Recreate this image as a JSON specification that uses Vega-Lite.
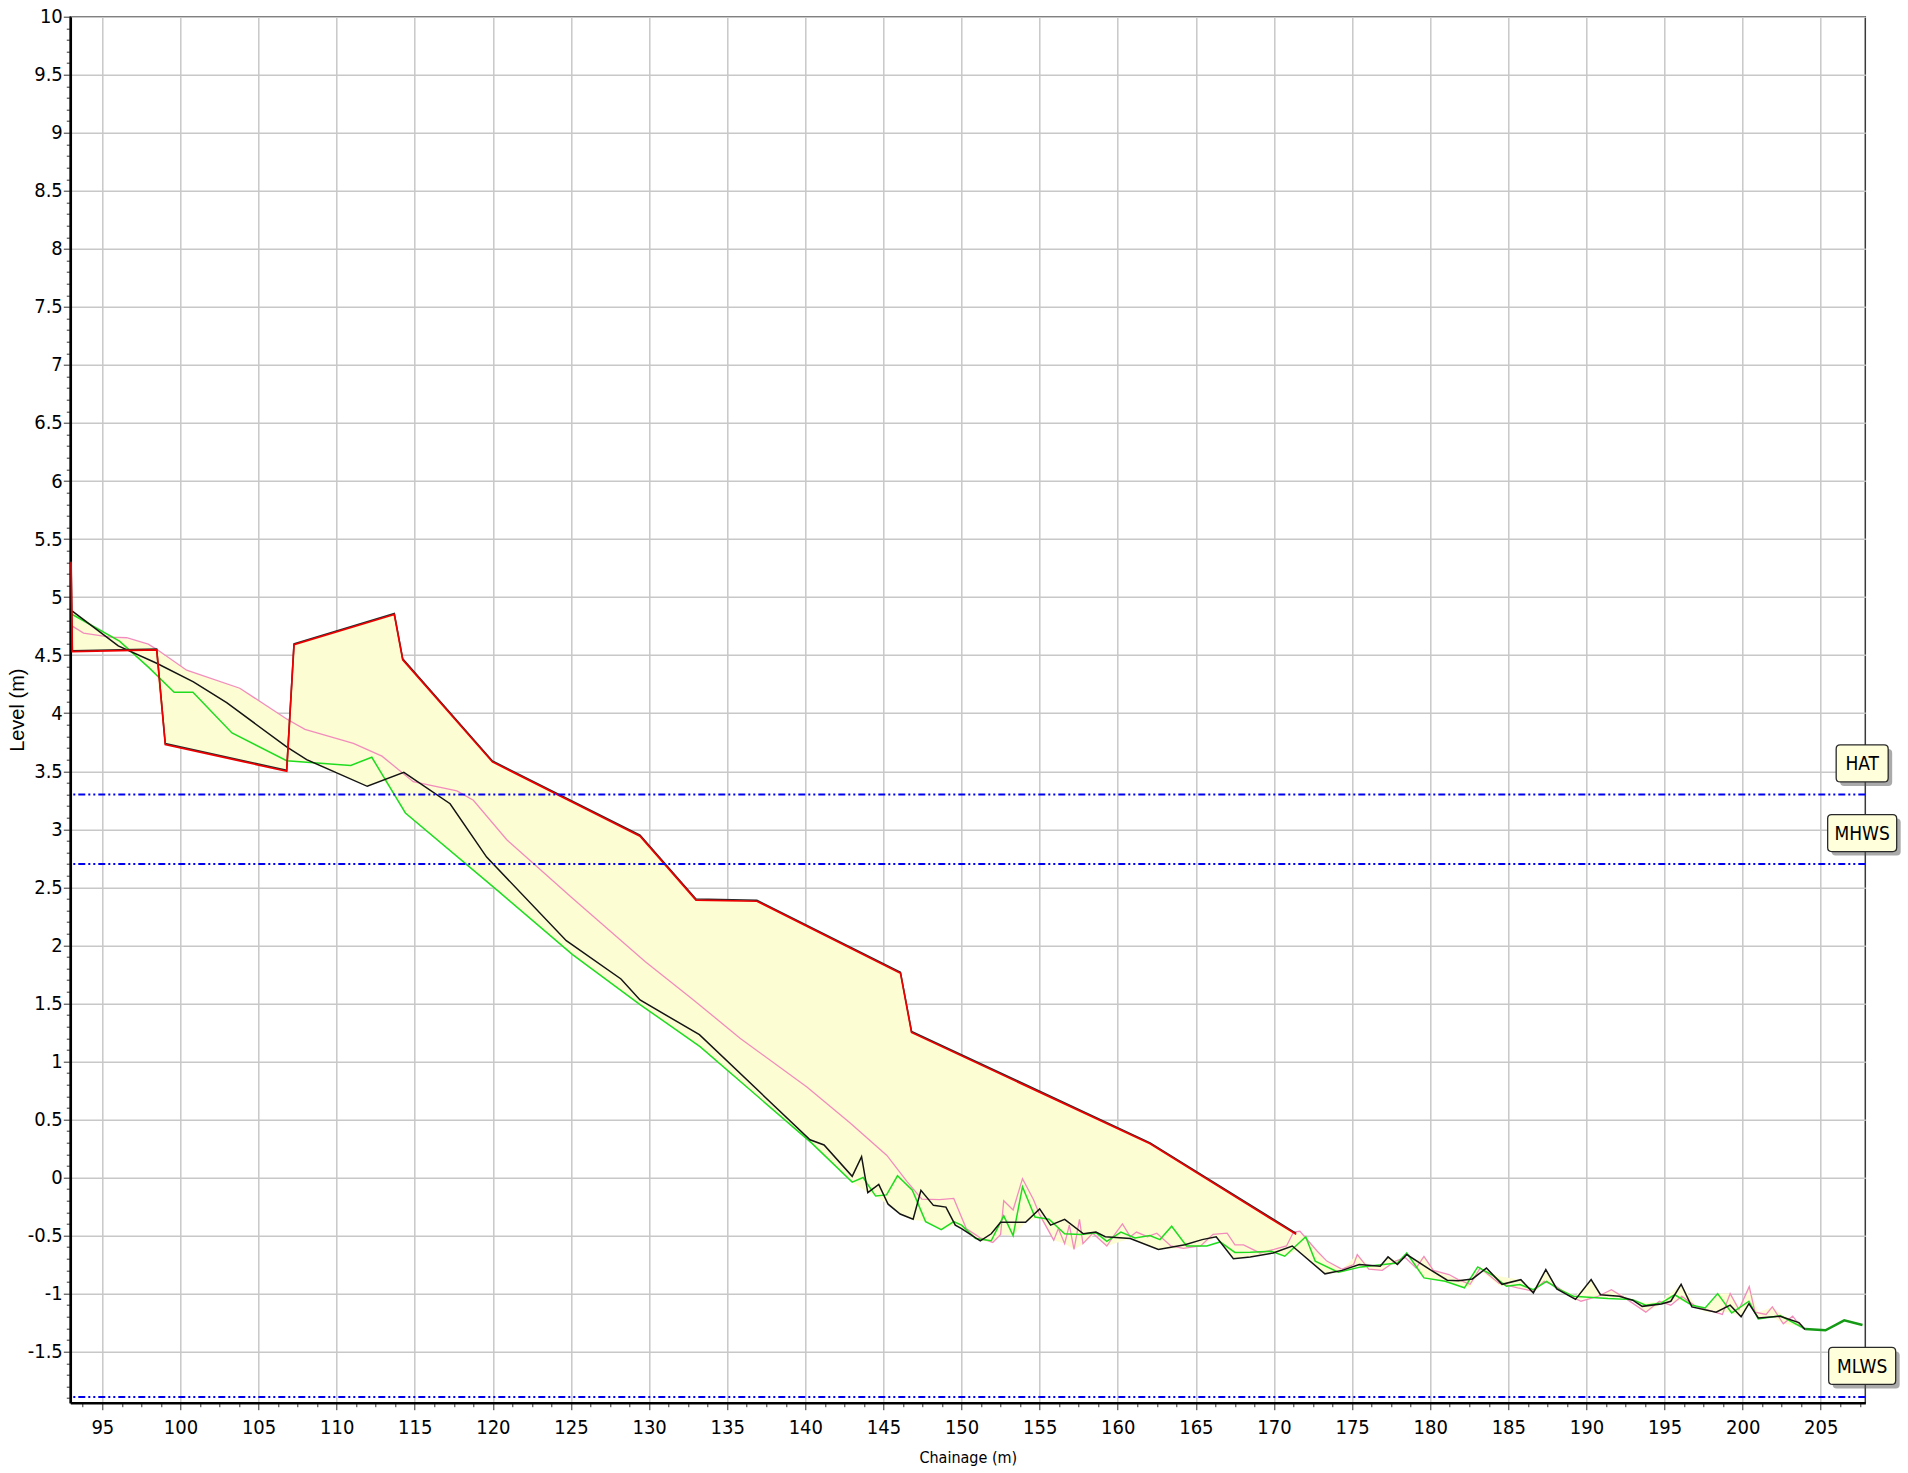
{
  "$schema": "https://vega.github.io/schema/vega-lite/v6.json",
  "width": 1795,
  "height": 1386,
  "autosize": {"type": "none"},
  "padding": {"left": 70.3, "top": 16.7, "right": 42.7, "bottom": 70.3},
  "background": "white",
  "config": {
    "view": {"stroke": "#3a3a3a", "strokeWidth": 1.5},
    "axis": {
      "labelFont": "Liberation Sans Narrow, DejaVu Sans Condensed, sans-serif",
      "labelFontSize": 20,
      "labelColor": "black",
      "labelOverlap": false,
      "labelFlush": false,
      "domainColor": "black",
      "domainWidth": 2.5,
      "tickColor": "#333",
      "tickWidth": 1,
      "tickSize": 7,
      "gridColor": "#c8c8c8",
      "gridWidth": 1.5,
      "titleColor": "black",
      "titleFontWeight": "normal"
    }
  },
  "datasets": {
    "profiles": [
      {"series": "red", "chainage": 93.0, "level": 5.3},
      {"series": "red", "chainage": 93.08, "level": 4.53},
      {"series": "red", "chainage": 98.48, "level": 4.545},
      {"series": "red", "chainage": 99.03, "level": 3.73},
      {"series": "red", "chainage": 106.8, "level": 3.5},
      {"series": "red", "chainage": 107.27, "level": 4.59},
      {"series": "red", "chainage": 113.69, "level": 4.85},
      {"series": "red", "chainage": 114.23, "level": 4.46},
      {"series": "red", "chainage": 119.97, "level": 3.58},
      {"series": "red", "chainage": 129.42, "level": 2.94},
      {"series": "red", "chainage": 133.0, "level": 2.39},
      {"series": "red", "chainage": 136.9, "level": 2.38},
      {"series": "red", "chainage": 146.09, "level": 1.76},
      {"series": "red", "chainage": 146.8, "level": 1.25},
      {"series": "red", "chainage": 162.07, "level": 0.29},
      {"series": "red", "chainage": 171.42, "level": -0.49},

      {"series": "black", "chainage": 93.08, "level": 4.88},
      {"series": "black", "chainage": 96.02, "level": 4.58},
      {"series": "black", "chainage": 98.48, "level": 4.43},
      {"series": "black", "chainage": 100.83, "level": 4.27},
      {"series": "black", "chainage": 102.96, "level": 4.09},
      {"series": "black", "chainage": 106.8, "level": 3.71},
      {"series": "black", "chainage": 108.08, "level": 3.6},
      {"series": "black", "chainage": 111.96, "level": 3.37},
      {"series": "black", "chainage": 114.3, "level": 3.49},
      {"series": "black", "chainage": 117.26, "level": 3.22},
      {"series": "black", "chainage": 119.6, "level": 2.76},
      {"series": "black", "chainage": 124.7, "level": 2.04},
      {"series": "black", "chainage": 128.2, "level": 1.71},
      {"series": "black", "chainage": 129.42, "level": 1.53},
      {"series": "black", "chainage": 133.22, "level": 1.23},
      {"series": "black", "chainage": 140.3, "level": 0.325},
      {"series": "black", "chainage": 141.2, "level": 0.28},
      {"series": "black", "chainage": 143.0, "level": 0.01},
      {"series": "black", "chainage": 143.6, "level": 0.18},
      {"series": "black", "chainage": 144.0, "level": -0.13},
      {"series": "black", "chainage": 144.7, "level": -0.06},
      {"series": "black", "chainage": 145.3, "level": -0.23},
      {"series": "black", "chainage": 146.07, "level": -0.315},
      {"series": "black", "chainage": 146.9, "level": -0.36},
      {"series": "black", "chainage": 147.4, "level": -0.11},
      {"series": "black", "chainage": 148.2, "level": -0.24},
      {"series": "black", "chainage": 149.0, "level": -0.255},
      {"series": "black", "chainage": 149.6, "level": -0.41},
      {"series": "black", "chainage": 150.0, "level": -0.44},
      {"series": "black", "chainage": 151.2, "level": -0.545},
      {"series": "black", "chainage": 151.9, "level": -0.485},
      {"series": "black", "chainage": 152.5, "level": -0.385},
      {"series": "black", "chainage": 154.1, "level": -0.385},
      {"series": "black", "chainage": 155.0, "level": -0.27},
      {"series": "black", "chainage": 155.7, "level": -0.41},
      {"series": "black", "chainage": 156.6, "level": -0.36},
      {"series": "black", "chainage": 157.8, "level": -0.485},
      {"series": "black", "chainage": 158.6, "level": -0.47},
      {"series": "black", "chainage": 159.2, "level": -0.51},
      {"series": "black", "chainage": 160.8, "level": -0.525},
      {"series": "black", "chainage": 162.6, "level": -0.62},
      {"series": "black", "chainage": 164.3, "level": -0.58},
      {"series": "black", "chainage": 165.4, "level": -0.535},
      {"series": "black", "chainage": 166.3, "level": -0.51},
      {"series": "black", "chainage": 167.4, "level": -0.7},
      {"series": "black", "chainage": 168.48, "level": -0.684},
      {"series": "black", "chainage": 169.95, "level": -0.65},
      {"series": "black", "chainage": 171.17, "level": -0.59},
      {"series": "black", "chainage": 173.26, "level": -0.83},
      {"series": "black", "chainage": 174.36, "level": -0.8},
      {"series": "black", "chainage": 175.46, "level": -0.75},
      {"series": "black", "chainage": 176.8, "level": -0.764},
      {"series": "black", "chainage": 177.3, "level": -0.684},
      {"series": "black", "chainage": 177.9, "level": -0.75},
      {"series": "black", "chainage": 178.5, "level": -0.664},
      {"series": "black", "chainage": 179.99, "level": -0.793},
      {"series": "black", "chainage": 181.09, "level": -0.885},
      {"series": "black", "chainage": 181.8, "level": -0.89},
      {"series": "black", "chainage": 182.7, "level": -0.874},
      {"series": "black", "chainage": 183.6, "level": -0.78},
      {"series": "black", "chainage": 184.6, "level": -0.92},
      {"series": "black", "chainage": 185.8, "level": -0.88},
      {"series": "black", "chainage": 186.6, "level": -0.994},
      {"series": "black", "chainage": 187.4, "level": -0.793},
      {"series": "black", "chainage": 188.1, "level": -0.96},
      {"series": "black", "chainage": 189.3, "level": -1.05},
      {"series": "black", "chainage": 190.3, "level": -0.88},
      {"series": "black", "chainage": 190.9, "level": -1.01},
      {"series": "black", "chainage": 192.1, "level": -1.023},
      {"series": "black", "chainage": 192.96, "level": -1.057},
      {"series": "black", "chainage": 193.57, "level": -1.11},
      {"series": "black", "chainage": 194.8, "level": -1.09},
      {"series": "black", "chainage": 195.4, "level": -1.066},
      {"series": "black", "chainage": 196.06, "level": -0.92},
      {"series": "black", "chainage": 196.75, "level": -1.115},
      {"series": "black", "chainage": 198.3, "level": -1.16},
      {"series": "black", "chainage": 199.2, "level": -1.1},
      {"series": "black", "chainage": 199.9, "level": -1.2},
      {"series": "black", "chainage": 200.4, "level": -1.086},
      {"series": "black", "chainage": 201.0, "level": -1.21},
      {"series": "black", "chainage": 202.4, "level": -1.195},
      {"series": "black", "chainage": 203.6, "level": -1.25},
      {"series": "black", "chainage": 204.0, "level": -1.31},

      {"series": "green", "chainage": 93.08, "level": 4.85},
      {"series": "green", "chainage": 96.1, "level": 4.62},
      {"series": "green", "chainage": 98.0, "level": 4.39},
      {"series": "green", "chainage": 99.6, "level": 4.18},
      {"series": "green", "chainage": 100.8, "level": 4.18},
      {"series": "green", "chainage": 103.3, "level": 3.83},
      {"series": "green", "chainage": 106.8, "level": 3.59},
      {"series": "green", "chainage": 108.3, "level": 3.575},
      {"series": "green", "chainage": 110.9, "level": 3.55},
      {"series": "green", "chainage": 112.25, "level": 3.62},
      {"series": "green", "chainage": 114.4, "level": 3.14},
      {"series": "green", "chainage": 120.4, "level": 2.46},
      {"series": "green", "chainage": 125.1, "level": 1.92},
      {"series": "green", "chainage": 129.42, "level": 1.49},
      {"series": "green", "chainage": 133.26, "level": 1.128},
      {"series": "green", "chainage": 140.41, "level": 0.296},
      {"series": "green", "chainage": 143.0, "level": -0.04},
      {"series": "green", "chainage": 143.7, "level": 0.0},
      {"series": "green", "chainage": 144.5, "level": -0.16},
      {"series": "green", "chainage": 145.2, "level": -0.15},
      {"series": "green", "chainage": 145.9, "level": 0.015},
      {"series": "green", "chainage": 146.85, "level": -0.11},
      {"series": "green", "chainage": 147.7, "level": -0.38},
      {"series": "green", "chainage": 148.7, "level": -0.45},
      {"series": "green", "chainage": 149.5, "level": -0.38},
      {"series": "green", "chainage": 150.0, "level": -0.41},
      {"series": "green", "chainage": 150.9, "level": -0.525},
      {"series": "green", "chainage": 151.9, "level": -0.545},
      {"series": "green", "chainage": 152.7, "level": -0.33},
      {"series": "green", "chainage": 153.3, "level": -0.5},
      {"series": "green", "chainage": 153.9, "level": -0.08},
      {"series": "green", "chainage": 154.7, "level": -0.34},
      {"series": "green", "chainage": 155.6, "level": -0.36},
      {"series": "green", "chainage": 156.6, "level": -0.485},
      {"series": "green", "chainage": 157.6, "level": -0.49},
      {"series": "green", "chainage": 158.6, "level": -0.475},
      {"series": "green", "chainage": 159.3, "level": -0.55},
      {"series": "green", "chainage": 160.2, "level": -0.47},
      {"series": "green", "chainage": 161.1, "level": -0.52},
      {"series": "green", "chainage": 162.05, "level": -0.5},
      {"series": "green", "chainage": 162.7, "level": -0.535},
      {"series": "green", "chainage": 163.45, "level": -0.42},
      {"series": "green", "chainage": 164.4, "level": -0.59},
      {"series": "green", "chainage": 165.7, "level": -0.59},
      {"series": "green", "chainage": 166.55, "level": -0.555},
      {"series": "green", "chainage": 167.5, "level": -0.645},
      {"series": "green", "chainage": 168.48, "level": -0.643},
      {"series": "green", "chainage": 169.83, "level": -0.635},
      {"series": "green", "chainage": 170.69, "level": -0.678},
      {"series": "green", "chainage": 172.03, "level": -0.511},
      {"series": "green", "chainage": 172.64, "level": -0.72},
      {"series": "green", "chainage": 174.11, "level": -0.816},
      {"series": "green", "chainage": 175.58, "level": -0.77},
      {"series": "green", "chainage": 176.56, "level": -0.756},
      {"series": "green", "chainage": 177.9, "level": -0.736},
      {"series": "green", "chainage": 178.5, "level": -0.65},
      {"series": "green", "chainage": 179.6, "level": -0.865},
      {"series": "green", "chainage": 180.96, "level": -0.894},
      {"series": "green", "chainage": 182.19, "level": -0.95},
      {"series": "green", "chainage": 183.04, "level": -0.77},
      {"series": "green", "chainage": 184.02, "level": -0.845},
      {"series": "green", "chainage": 184.88, "level": -0.937},
      {"series": "green", "chainage": 185.74, "level": -0.922},
      {"series": "green", "chainage": 186.6, "level": -0.966},
      {"series": "green", "chainage": 187.45, "level": -0.894},
      {"series": "green", "chainage": 188.18, "level": -0.96},
      {"series": "green", "chainage": 189.16, "level": -1.023},
      {"series": "green", "chainage": 189.9, "level": -1.029},
      {"series": "green", "chainage": 191.37, "level": -1.043},
      {"series": "green", "chainage": 192.96, "level": -1.052},
      {"series": "green", "chainage": 193.8, "level": -1.1},
      {"series": "green", "chainage": 194.8, "level": -1.08},
      {"series": "green", "chainage": 195.65, "level": -1.01},
      {"series": "green", "chainage": 196.75, "level": -1.1},
      {"series": "green", "chainage": 197.6, "level": -1.124},
      {"series": "green", "chainage": 198.4, "level": -1.0},
      {"series": "green", "chainage": 199.3, "level": -1.167},
      {"series": "green", "chainage": 200.4, "level": -1.066},
      {"series": "green", "chainage": 201.0, "level": -1.218},
      {"series": "green", "chainage": 202.4, "level": -1.19},
      {"series": "green", "chainage": 204.0, "level": -1.305},

      {"series": "darkgreen", "chainage": 204.0, "level": -1.305},
      {"series": "darkgreen", "chainage": 205.3, "level": -1.316},
      {"series": "darkgreen", "chainage": 206.5, "level": -1.23},
      {"series": "darkgreen", "chainage": 207.67, "level": -1.27},

      {"series": "pink", "chainage": 93.08, "level": 4.75},
      {"series": "pink", "chainage": 93.8, "level": 4.69},
      {"series": "pink", "chainage": 95.5, "level": 4.655},
      {"series": "pink", "chainage": 96.56, "level": 4.65},
      {"series": "pink", "chainage": 97.94, "level": 4.595},
      {"series": "pink", "chainage": 98.48, "level": 4.55},
      {"series": "pink", "chainage": 100.4, "level": 4.37},
      {"series": "pink", "chainage": 103.8, "level": 4.215},
      {"series": "pink", "chainage": 106.8, "level": 3.95},
      {"series": "pink", "chainage": 107.97, "level": 3.86},
      {"series": "pink", "chainage": 111.07, "level": 3.74},
      {"series": "pink", "chainage": 112.9, "level": 3.63},
      {"series": "pink", "chainage": 114.9, "level": 3.41},
      {"series": "pink", "chainage": 117.7, "level": 3.33},
      {"series": "pink", "chainage": 118.75, "level": 3.25},
      {"series": "pink", "chainage": 120.89, "level": 2.91},
      {"series": "pink", "chainage": 125.06, "level": 2.41},
      {"series": "pink", "chainage": 129.74, "level": 1.86},
      {"series": "pink", "chainage": 132.84, "level": 1.53},
      {"series": "pink", "chainage": 135.82, "level": 1.2},
      {"series": "pink", "chainage": 140.1, "level": 0.78},
      {"series": "pink", "chainage": 142.87, "level": 0.47},
      {"series": "pink", "chainage": 145.22, "level": 0.19},
      {"series": "pink", "chainage": 146.5, "level": -0.034},
      {"series": "pink", "chainage": 147.46, "level": -0.186},
      {"series": "pink", "chainage": 148.6, "level": -0.19},
      {"series": "pink", "chainage": 149.5, "level": -0.18},
      {"series": "pink", "chainage": 150.3, "level": -0.44},
      {"series": "pink", "chainage": 151.2, "level": -0.52},
      {"series": "pink", "chainage": 152.0, "level": -0.56},
      {"series": "pink", "chainage": 152.5, "level": -0.49},
      {"series": "pink", "chainage": 152.7, "level": -0.2},
      {"series": "pink", "chainage": 153.3, "level": -0.28},
      {"series": "pink", "chainage": 153.9, "level": -0.01},
      {"series": "pink", "chainage": 154.6, "level": -0.19},
      {"series": "pink", "chainage": 155.0, "level": -0.32},
      {"series": "pink", "chainage": 155.9, "level": -0.54},
      {"series": "pink", "chainage": 156.2, "level": -0.44},
      {"series": "pink", "chainage": 156.6, "level": -0.57},
      {"series": "pink", "chainage": 156.9, "level": -0.41},
      {"series": "pink", "chainage": 157.2, "level": -0.62},
      {"series": "pink", "chainage": 157.55, "level": -0.36},
      {"series": "pink", "chainage": 157.77, "level": -0.57},
      {"series": "pink", "chainage": 158.4, "level": -0.48},
      {"series": "pink", "chainage": 159.3, "level": -0.59},
      {"series": "pink", "chainage": 159.7, "level": -0.51},
      {"series": "pink", "chainage": 160.3, "level": -0.4},
      {"series": "pink", "chainage": 160.8, "level": -0.51},
      {"series": "pink", "chainage": 161.2, "level": -0.47},
      {"series": "pink", "chainage": 161.9, "level": -0.51},
      {"series": "pink", "chainage": 162.5, "level": -0.48},
      {"series": "pink", "chainage": 163.4, "level": -0.59},
      {"series": "pink", "chainage": 164.2, "level": -0.61},
      {"series": "pink", "chainage": 165.3, "level": -0.59},
      {"series": "pink", "chainage": 166.1, "level": -0.49},
      {"series": "pink", "chainage": 167.0, "level": -0.48},
      {"series": "pink", "chainage": 167.5, "level": -0.58},
      {"series": "pink", "chainage": 168.05, "level": -0.58},
      {"series": "pink", "chainage": 169.1, "level": -0.65},
      {"series": "pink", "chainage": 170.0, "level": -0.62},
      {"series": "pink", "chainage": 170.8, "level": -0.59},
      {"series": "pink", "chainage": 171.25, "level": -0.47},
      {"series": "pink", "chainage": 171.66, "level": -0.463},
      {"series": "pink", "chainage": 172.77, "level": -0.635},
      {"series": "pink", "chainage": 173.38, "level": -0.72},
      {"series": "pink", "chainage": 174.36, "level": -0.79},
      {"series": "pink", "chainage": 175.1, "level": -0.75},
      {"series": "pink", "chainage": 175.33, "level": -0.664},
      {"series": "pink", "chainage": 176.07, "level": -0.79},
      {"series": "pink", "chainage": 176.93, "level": -0.8},
      {"series": "pink", "chainage": 177.78, "level": -0.72},
      {"series": "pink", "chainage": 178.4, "level": -0.69},
      {"series": "pink", "chainage": 179.1, "level": -0.78},
      {"series": "pink", "chainage": 179.6, "level": -0.68},
      {"series": "pink", "chainage": 180.2, "level": -0.8},
      {"series": "pink", "chainage": 181.2, "level": -0.836},
      {"series": "pink", "chainage": 181.8, "level": -0.88},
      {"series": "pink", "chainage": 182.55, "level": -0.92},
      {"series": "pink", "chainage": 183.2, "level": -0.78},
      {"series": "pink", "chainage": 184.4, "level": -0.91},
      {"series": "pink", "chainage": 185.6, "level": -0.95},
      {"series": "pink", "chainage": 186.6, "level": -0.98},
      {"series": "pink", "chainage": 187.3, "level": -0.894},
      {"series": "pink", "chainage": 188.06, "level": -0.937},
      {"series": "pink", "chainage": 188.8, "level": -1.01},
      {"series": "pink", "chainage": 189.65, "level": -1.066},
      {"series": "pink", "chainage": 190.75, "level": -1.023},
      {"series": "pink", "chainage": 191.6, "level": -0.966},
      {"series": "pink", "chainage": 192.6, "level": -1.05},
      {"series": "pink", "chainage": 193.8, "level": -1.16},
      {"series": "pink", "chainage": 194.67, "level": -1.066},
      {"series": "pink", "chainage": 195.4, "level": -1.1},
      {"series": "pink", "chainage": 196.1, "level": -1.023},
      {"series": "pink", "chainage": 196.99, "level": -1.11},
      {"series": "pink", "chainage": 197.7, "level": -1.138},
      {"series": "pink", "chainage": 198.7, "level": -1.18},
      {"series": "pink", "chainage": 199.2, "level": -1.0},
      {"series": "pink", "chainage": 199.76, "level": -1.138},
      {"series": "pink", "chainage": 200.42, "level": -0.94},
      {"series": "pink", "chainage": 200.79, "level": -1.16},
      {"series": "pink", "chainage": 201.5, "level": -1.18},
      {"series": "pink", "chainage": 201.9, "level": -1.115},
      {"series": "pink", "chainage": 202.6, "level": -1.26},
      {"series": "pink", "chainage": 203.2, "level": -1.195},
      {"series": "pink", "chainage": 203.7, "level": -1.28},
      {"series": "pink", "chainage": 203.97, "level": -1.31}
    ],
    "envelope": [
      {"chainage": 93.08, "hi": 4.88, "lo": 4.53},
      {"chainage": 94.0, "hi": 4.8, "lo": 4.535},
      {"chainage": 95.0, "hi": 4.7, "lo": 4.537},
      {"chainage": 96.1, "hi": 4.646, "lo": 4.54},
      {"chainage": 96.6, "hi": 4.64, "lo": 4.54},
      {"chainage": 97.5, "hi": 4.61, "lo": 4.45},
      {"chainage": 98.48, "hi": 4.55, "lo": 4.33},
      {"chainage": 99.03, "hi": 4.49, "lo": 3.73},
      {"chainage": 100.4, "hi": 4.37, "lo": 3.69},
      {"chainage": 103.8, "hi": 4.215, "lo": 3.59},
      {"chainage": 106.8, "hi": 3.95, "lo": 3.5},
      {"chainage": 107.0, "hi": 3.96, "lo": 3.585},
      {"chainage": 107.27, "hi": 4.59, "lo": 3.58},
      {"chainage": 108.3, "hi": 4.63, "lo": 3.575},
      {"chainage": 110.9, "hi": 4.74, "lo": 3.43},
      {"chainage": 111.96, "hi": 4.78, "lo": 3.37},
      {"chainage": 113.0, "hi": 4.82, "lo": 3.42},
      {"chainage": 113.69, "hi": 4.85, "lo": 3.3},
      {"chainage": 114.23, "hi": 4.46, "lo": 3.18},
      {"chainage": 114.4, "hi": 4.43, "lo": 3.14},
      {"chainage": 119.97, "hi": 3.58, "lo": 2.51},
      {"chainage": 120.4, "hi": 3.55, "lo": 2.46},
      {"chainage": 125.1, "hi": 3.24, "lo": 1.92},
      {"chainage": 129.42, "hi": 2.94, "lo": 1.49},
      {"chainage": 133.0, "hi": 2.39, "lo": 1.15},
      {"chainage": 133.26, "hi": 2.39, "lo": 1.128},
      {"chainage": 136.9, "hi": 2.38, "lo": 0.7},
      {"chainage": 140.41, "hi": 2.14, "lo": 0.296},
      {"chainage": 143.0, "hi": 1.96, "lo": -0.04},
      {"chainage": 144.0, "hi": 1.895, "lo": -0.13},
      {"chainage": 144.5, "hi": 1.86, "lo": -0.16},
      {"chainage": 145.3, "hi": 1.81, "lo": -0.235},
      {"chainage": 146.09, "hi": 1.76, "lo": -0.32},
      {"chainage": 146.8, "hi": 1.25, "lo": -0.365},
      {"chainage": 147.7, "hi": 1.19, "lo": -0.38},
      {"chainage": 148.7, "hi": 1.13, "lo": -0.45},
      {"chainage": 149.6, "hi": 1.07, "lo": -0.41},
      {"chainage": 150.0, "hi": 1.05, "lo": -0.44},
      {"chainage": 151.2, "hi": 0.97, "lo": -0.545},
      {"chainage": 152.0, "hi": 0.92, "lo": -0.56},
      {"chainage": 152.5, "hi": 0.89, "lo": -0.49},
      {"chainage": 153.3, "hi": 0.84, "lo": -0.5},
      {"chainage": 154.1, "hi": 0.79, "lo": -0.385},
      {"chainage": 155.0, "hi": 0.73, "lo": -0.34},
      {"chainage": 155.9, "hi": 0.68, "lo": -0.54},
      {"chainage": 156.6, "hi": 0.63, "lo": -0.57},
      {"chainage": 157.2, "hi": 0.6, "lo": -0.62},
      {"chainage": 157.8, "hi": 0.56, "lo": -0.57},
      {"chainage": 158.6, "hi": 0.51, "lo": -0.48},
      {"chainage": 159.3, "hi": 0.46, "lo": -0.59},
      {"chainage": 160.8, "hi": 0.37, "lo": -0.525},
      {"chainage": 162.07, "hi": 0.29, "lo": -0.6},
      {"chainage": 162.6, "hi": 0.25, "lo": -0.62},
      {"chainage": 164.2, "hi": 0.11, "lo": -0.61},
      {"chainage": 165.4, "hi": 0.01, "lo": -0.59},
      {"chainage": 166.3, "hi": -0.06, "lo": -0.51},
      {"chainage": 167.4, "hi": -0.16, "lo": -0.7},
      {"chainage": 168.48, "hi": -0.25, "lo": -0.684},
      {"chainage": 169.95, "hi": -0.37, "lo": -0.65},
      {"chainage": 170.69, "hi": -0.43, "lo": -0.678},
      {"chainage": 171.42, "hi": -0.47, "lo": -0.63},
      {"chainage": 172.03, "hi": -0.51, "lo": -0.69},
      {"chainage": 172.77, "hi": -0.635, "lo": -0.77},
      {"chainage": 173.26, "hi": -0.72, "lo": -0.83},
      {"chainage": 174.36, "hi": -0.79, "lo": -0.82},
      {"chainage": 175.33, "hi": -0.664, "lo": -0.77},
      {"chainage": 176.07, "hi": -0.76, "lo": -0.79},
      {"chainage": 176.93, "hi": -0.76, "lo": -0.8},
      {"chainage": 177.3, "hi": -0.684, "lo": -0.745},
      {"chainage": 177.9, "hi": -0.72, "lo": -0.75},
      {"chainage": 178.5, "hi": -0.65, "lo": -0.664},
      {"chainage": 179.1, "hi": -0.716, "lo": -0.78},
      {"chainage": 179.6, "hi": -0.68, "lo": -0.865},
      {"chainage": 180.2, "hi": -0.793, "lo": -0.88},
      {"chainage": 181.8, "hi": -0.88, "lo": -0.93},
      {"chainage": 182.55, "hi": -0.874, "lo": -0.95},
      {"chainage": 183.2, "hi": -0.77, "lo": -0.8},
      {"chainage": 184.4, "hi": -0.85, "lo": -0.93},
      {"chainage": 185.8, "hi": -0.88, "lo": -0.95},
      {"chainage": 186.6, "hi": -0.966, "lo": -0.994},
      {"chainage": 187.4, "hi": -0.793, "lo": -0.894},
      {"chainage": 188.1, "hi": -0.937, "lo": -0.96},
      {"chainage": 189.3, "hi": -1.02, "lo": -1.06},
      {"chainage": 190.3, "hi": -0.88, "lo": -1.04},
      {"chainage": 190.9, "hi": -1.01, "lo": -1.04},
      {"chainage": 191.6, "hi": -0.966, "lo": -1.045},
      {"chainage": 192.96, "hi": -1.05, "lo": -1.057},
      {"chainage": 193.8, "hi": -1.08, "lo": -1.16},
      {"chainage": 194.8, "hi": -1.066, "lo": -1.09},
      {"chainage": 196.06, "hi": -0.92, "lo": -1.06},
      {"chainage": 196.99, "hi": -1.1, "lo": -1.12},
      {"chainage": 197.7, "hi": -1.12, "lo": -1.16},
      {"chainage": 198.4, "hi": -1.0, "lo": -1.16},
      {"chainage": 199.2, "hi": -1.0, "lo": -1.16},
      {"chainage": 199.9, "hi": -1.138, "lo": -1.2},
      {"chainage": 200.42, "hi": -0.94, "lo": -1.086},
      {"chainage": 201.0, "hi": -1.16, "lo": -1.218},
      {"chainage": 201.9, "hi": -1.115, "lo": -1.2},
      {"chainage": 202.6, "hi": -1.19, "lo": -1.26},
      {"chainage": 203.7, "hi": -1.25, "lo": -1.28},
      {"chainage": 204.0, "hi": -1.3, "lo": -1.31}
    ],
    "levels": [
      {"name": "HAT", "level": 3.3},
      {"name": "MHWS", "level": 2.7},
      {"name": "MLWS", "level": -1.89}
    ]
  },
  "layer": [
    {
      "data": {"name": "envelope"},
      "mark": {"type": "area", "color": "#fdfdd4", "opacity": 1},
      "encoding": {
        "x": {
          "field": "chainage", "type": "quantitative",
          "scale": {"domain": [92.95, 207.85], "nice": false, "zero": false},
          "axis": {
            "title": "Chainage (m)",
            "tickCount": 500,
            "values": [93.75, 95, 96.25, 97.5, 98.75, 100, 101.25, 102.5, 103.75, 105, 106.25, 107.5, 108.75, 110, 111.25, 112.5, 113.75, 115, 116.25, 117.5, 118.75, 120, 121.25, 122.5, 123.75, 125, 126.25, 127.5, 128.75, 130, 131.25, 132.5, 133.75, 135, 136.25, 137.5, 138.75, 140, 141.25, 142.5, 143.75, 145, 146.25, 147.5, 148.75, 150, 151.25, 152.5, 153.75, 155, 156.25, 157.5, 158.75, 160, 161.25, 162.5, 163.75, 165, 166.25, 167.5, 168.75, 170, 171.25, 172.5, 173.75, 175, 176.25, 177.5, 178.75, 180, 181.25, 182.5, 183.75, 185, 186.25, 187.5, 188.75, 190, 191.25, 192.5, 193.75, 195, 196.25, 197.5, 198.75, 200, 201.25, 202.5, 203.75, 205, 206.25, 207.5],
            "labelExpr": "datum.value % 5 === 0 ? '' + datum.value : ''",
            "gridOpacity": {"condition": {"test": "datum.value % 5 === 0", "value": 1}, "value": 0},
            "tickDash": {"condition": {"test": "datum.value % 5 === 0", "value": [10, 0]}, "value": [4, 10]},
            "labelBaseline": "alphabetic",
            "labelPadding": 24,
            "titleFont": "Liberation Sans Narrow, DejaVu Sans Condensed, sans-serif",
            "titleFontSize": 16,
            "titleY": 60,
            "titleBaseline": "alphabetic"
          }
        },
        "y": {
          "field": "hi", "type": "quantitative",
          "scale": {"domain": [-1.94, 10], "nice": false, "zero": false},
          "axis": {
            "title": "Level (m)",
            "tickCount": 500,
            "values": [-1.9, -1.8, -1.7, -1.6, -1.5, -1.4, -1.3, -1.2, -1.1, -1, -0.9, -0.8, -0.7, -0.6, -0.5, -0.4, -0.3, -0.2, -0.1, 0, 0.1, 0.2, 0.3, 0.4, 0.5, 0.6, 0.7, 0.8, 0.9, 1, 1.1, 1.2, 1.3, 1.4, 1.5, 1.6, 1.7, 1.8, 1.9, 2, 2.1, 2.2, 2.3, 2.4, 2.5, 2.6, 2.7, 2.8, 2.9, 3, 3.1, 3.2, 3.3, 3.4, 3.5, 3.6, 3.7, 3.8, 3.9, 4, 4.1, 4.2, 4.3, 4.4, 4.5, 4.6, 4.7, 4.8, 4.9, 5, 5.1, 5.2, 5.3, 5.4, 5.5, 5.6, 5.7, 5.8, 5.9, 6, 6.1, 6.2, 6.3, 6.4, 6.5, 6.6, 6.7, 6.8, 6.9, 7, 7.1, 7.2, 7.3, 7.4, 7.5, 7.6, 7.7, 7.8, 7.9, 8, 8.1, 8.2, 8.3, 8.4, 8.5, 8.6, 8.7, 8.8, 8.9, 9, 9.1, 9.2, 9.3, 9.4, 9.5, 9.6, 9.7, 9.8, 9.9, 10],
            "labelExpr": "abs(datum.value * 2 - round(datum.value * 2)) < 0.001 ? '' + datum.value : ''",
            "gridOpacity": {"condition": {"test": "abs(datum.value * 2 - round(datum.value * 2)) < 0.001", "value": 1}, "value": 0},
            "tickDash": {"condition": {"test": "abs(datum.value * 2 - round(datum.value * 2)) < 0.001", "value": [10, 0]}, "value": [4, 10]},
            "labelPadding": 1,
            "titleFont": "Liberation Sans, Arial, sans-serif",
            "titleFontSize": 20,
            "titleAngle": -90,
            "titleX": -47,
            "titleY": 693,
            "titleAlign": "center",
            "titleBaseline": "alphabetic"
          }
        },
        "y2": {"field": "lo"}
      }
    },
    {
      "data": {"name": "profiles"},
      "transform": [{"filter": "datum.series === 'pink'"}],
      "mark": {"type": "line", "color": "#f28cbc", "strokeWidth": 1.3},
      "encoding": {
        "x": {"field": "chainage", "type": "quantitative", "scale": {"domain": [92.95, 207.85], "nice": false, "zero": false}},
        "y": {"field": "level", "type": "quantitative", "scale": {"domain": [-1.94, 10], "nice": false, "zero": false}}
      }
    },
    {
      "data": {"name": "profiles"},
      "transform": [{"filter": "datum.series === 'green'"}],
      "mark": {"type": "line", "color": "#1fdc1f", "strokeWidth": 1.5},
      "encoding": {
        "x": {"field": "chainage", "type": "quantitative", "scale": {"domain": [92.95, 207.85], "nice": false, "zero": false}},
        "y": {"field": "level", "type": "quantitative", "scale": {"domain": [-1.94, 10], "nice": false, "zero": false}}
      }
    },
    {
      "data": {"name": "profiles"},
      "transform": [{"filter": "datum.series === 'darkgreen'"}],
      "mark": {"type": "line", "color": "#149a14", "strokeWidth": 2.5},
      "encoding": {
        "x": {"field": "chainage", "type": "quantitative", "scale": {"domain": [92.95, 207.85], "nice": false, "zero": false}},
        "y": {"field": "level", "type": "quantitative", "scale": {"domain": [-1.94, 10], "nice": false, "zero": false}}
      }
    },
    {
      "data": {"name": "profiles"},
      "transform": [{"filter": "datum.series === 'black'"}],
      "mark": {"type": "line", "color": "#141414", "strokeWidth": 1.5},
      "encoding": {
        "x": {"field": "chainage", "type": "quantitative", "scale": {"domain": [92.95, 207.85], "nice": false, "zero": false}},
        "y": {"field": "level", "type": "quantitative", "scale": {"domain": [-1.94, 10], "nice": false, "zero": false}}
      }
    },
    {
      "data": {"name": "profiles"},
      "transform": [{"filter": "datum.series === 'red'"}],
      "mark": {"type": "line", "color": "#2a2a2a", "strokeWidth": 1.5, "yOffset": -1},
      "encoding": {
        "x": {"field": "chainage", "type": "quantitative", "scale": {"domain": [92.95, 207.85], "nice": false, "zero": false}},
        "y": {"field": "level", "type": "quantitative", "scale": {"domain": [-1.94, 10], "nice": false, "zero": false}}
      }
    },
    {
      "data": {"name": "profiles"},
      "transform": [{"filter": "datum.series === 'red'"}],
      "mark": {"type": "line", "color": "#ee0000", "strokeWidth": 1.7},
      "encoding": {
        "x": {"field": "chainage", "type": "quantitative", "scale": {"domain": [92.95, 207.85], "nice": false, "zero": false}},
        "y": {"field": "level", "type": "quantitative", "scale": {"domain": [-1.94, 10], "nice": false, "zero": false}}
      }
    },
    {
      "data": {"name": "levels"},
      "mark": {"type": "rule", "color": "#0000ee", "strokeWidth": 2, "strokeDash": [7, 3, 2, 3, 2, 3]},
      "encoding": {
        "y": {"field": "level", "type": "quantitative", "scale": {"domain": [-1.94, 10], "nice": false, "zero": false}}
      }
    },
    {
      "data": {"name": "levels"},
      "mark": {"type": "point", "filled": true, "size": 4900, "fill": "#555555", "fillOpacity": 0.5, "strokeWidth": 0, "xOffset": 4, "yOffset": -27},
      "encoding": {
        "x": {"datum": 207.65, "type": "quantitative", "scale": {"domain": [92.95, 207.85], "nice": false, "zero": false}},
        "y": {"field": "level", "type": "quantitative", "scale": {"domain": [-1.94, 10], "nice": false, "zero": false}},
        "shape": {
          "field": "name", "type": "nominal", "legend": null,
          "scale": {
            "domain": ["HAT", "MHWS", "MLWS"],
            "range": [
              "M -0.743 -0.415 Q -0.743 -0.529 -0.629 -0.529 L 0.629 -0.529 Q 0.743 -0.529 0.743 -0.415 L 0.743 0.415 Q 0.743 0.529 0.629 0.529 L -0.629 0.529 Q -0.743 0.529 -0.743 0.415 Z",
              "M -0.986 -0.415 Q -0.986 -0.529 -0.872 -0.529 L 0.872 -0.529 Q 0.986 -0.529 0.986 -0.415 L 0.986 0.415 Q 0.986 0.529 0.872 0.529 L -0.872 0.529 Q -0.986 0.529 -0.986 0.415 Z",
              "M -0.957 -0.415 Q -0.957 -0.529 -0.843 -0.529 L 0.843 -0.529 Q 0.957 -0.529 0.957 -0.415 L 0.957 0.415 Q 0.957 0.529 0.843 0.529 L -0.843 0.529 Q -0.957 0.529 -0.957 0.415 Z"
            ]
          }
        }
      }
    },
    {
      "data": {"name": "levels"},
      "mark": {"type": "point", "filled": true, "size": 4900, "fill": "#ffffdc", "fillOpacity": 1, "stroke": "#2a2a2a", "strokeWidth": 1.3, "opacity": 1, "yOffset": -31},
      "encoding": {
        "x": {"datum": 207.65, "type": "quantitative", "scale": {"domain": [92.95, 207.85], "nice": false, "zero": false}},
        "y": {"field": "level", "type": "quantitative", "scale": {"domain": [-1.94, 10], "nice": false, "zero": false}},
        "shape": {
          "field": "name", "type": "nominal", "legend": null,
          "scale": {
            "domain": ["HAT", "MHWS", "MLWS"],
            "range": [
              "M -0.743 -0.415 Q -0.743 -0.529 -0.629 -0.529 L 0.629 -0.529 Q 0.743 -0.529 0.743 -0.415 L 0.743 0.415 Q 0.743 0.529 0.629 0.529 L -0.629 0.529 Q -0.743 0.529 -0.743 0.415 Z",
              "M -0.986 -0.415 Q -0.986 -0.529 -0.872 -0.529 L 0.872 -0.529 Q 0.986 -0.529 0.986 -0.415 L 0.986 0.415 Q 0.986 0.529 0.872 0.529 L -0.872 0.529 Q -0.986 0.529 -0.986 0.415 Z",
              "M -0.957 -0.415 Q -0.957 -0.529 -0.843 -0.529 L 0.843 -0.529 Q 0.957 -0.529 0.957 -0.415 L 0.957 0.415 Q 0.957 0.529 0.843 0.529 L -0.843 0.529 Q -0.957 0.529 -0.957 0.415 Z"
            ]
          }
        }
      }
    },
    {
      "data": {"name": "levels"},
      "mark": {"type": "text", "font": "Liberation Sans Narrow, DejaVu Sans Condensed, sans-serif", "fontSize": 19, "color": "black", "align": "center", "baseline": "middle", "yOffset": -30},
      "encoding": {
        "x": {"datum": 207.65, "type": "quantitative", "scale": {"domain": [92.95, 207.85], "nice": false, "zero": false}},
        "y": {"field": "level", "type": "quantitative", "scale": {"domain": [-1.94, 10], "nice": false, "zero": false}},
        "text": {"field": "name"}
      }
    }
  ]
}
